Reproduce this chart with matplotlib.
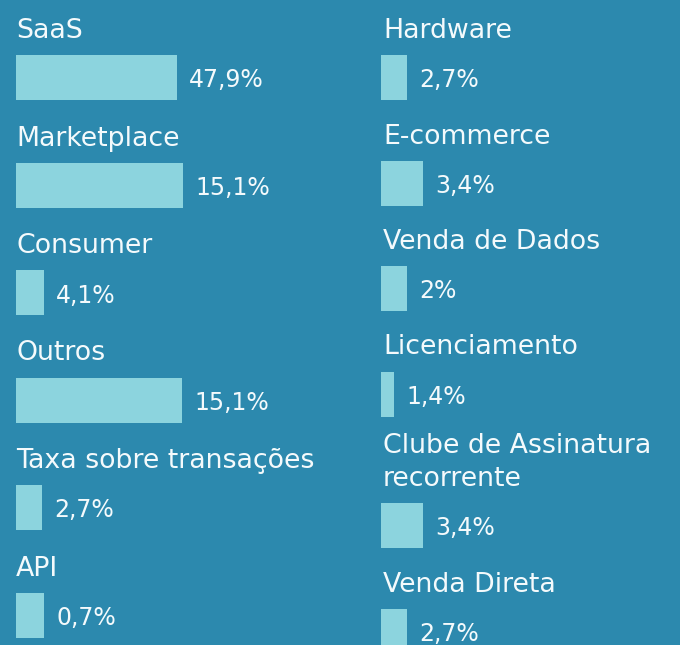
import matplotlib
matplotlib.use("Agg")
import matplotlib.pyplot as plt

# ---- data ----
left_labels = ["SaaS", "Marketplace", "Consumer", "Outros", "Taxa sobre transações", "API"]
left_values = ["47,9%", "15,1%", "4,1%", "15,1%", "2,7%", "0,7%"]
left_bar_lengths = [161, 167, 28, 166, 26, 28]

right_labels = ["Hardware", "E-commerce", "Venda de Dados", "Licenciamento",
                "Clube de Assinatura\nrecorrente", "Venda Direta"]
right_values = ["2,7%", "3,4%", "2%", "1,4%", "3,4%", "2,7%"]
right_bar_lengths = [26, 42, 26, 13, 42, 26]

# ---- style ----
BG = "#2C89AE"
BAR = "#8CD4DE"
TXT = "#F4FAFC"
FONT = "DejaVu Sans"
LABEL_SIZE = 19.3
VALUE_SIZE = 17

W, H = 680, 645
fig = plt.figure(figsize=(W / 100, H / 100), dpi=100)
fig.patch.set_facecolor(BG)
ax = fig.add_axes([0, 0, 1, 1])
ax.set_facecolor(BG)
ax.set_xlim(0, W)
ax.set_ylim(H, 0)
ax.axis("off")

BAR_H = 45
LINE = 33


def draw_column(labels, values, lengths, x0, label_x, first_center, pitch, extra_line):
    center = first_center
    for lab, val, ln in zip(labels, values, lengths):
        lines = lab.split("\n")
        center += extra_line * (len(lines) - 1)
        ax.barh(center, ln, left=x0, height=BAR_H, color=BAR, edgecolor="none")
        base = center - BAR_H / 2 - 17
        for k, line in enumerate(reversed(lines)):
            ax.text(label_x, base - k * LINE, line, color=TXT, fontsize=LABEL_SIZE,
                    family=FONT, va="baseline", ha="left")
        ax.text(x0 + ln + 12, center + 10, val, color=TXT, fontsize=VALUE_SIZE,
                family=FONT, va="baseline", ha="left")
        center += pitch


draw_column(left_labels, left_values, left_bar_lengths, 16, 16, 77.5, 107.5, 0)
draw_column(right_labels, right_values, right_bar_lengths, 381, 383, 77.5, 105.5, 26)

fig.savefig("out.png", dpi=100, facecolor=BG)
